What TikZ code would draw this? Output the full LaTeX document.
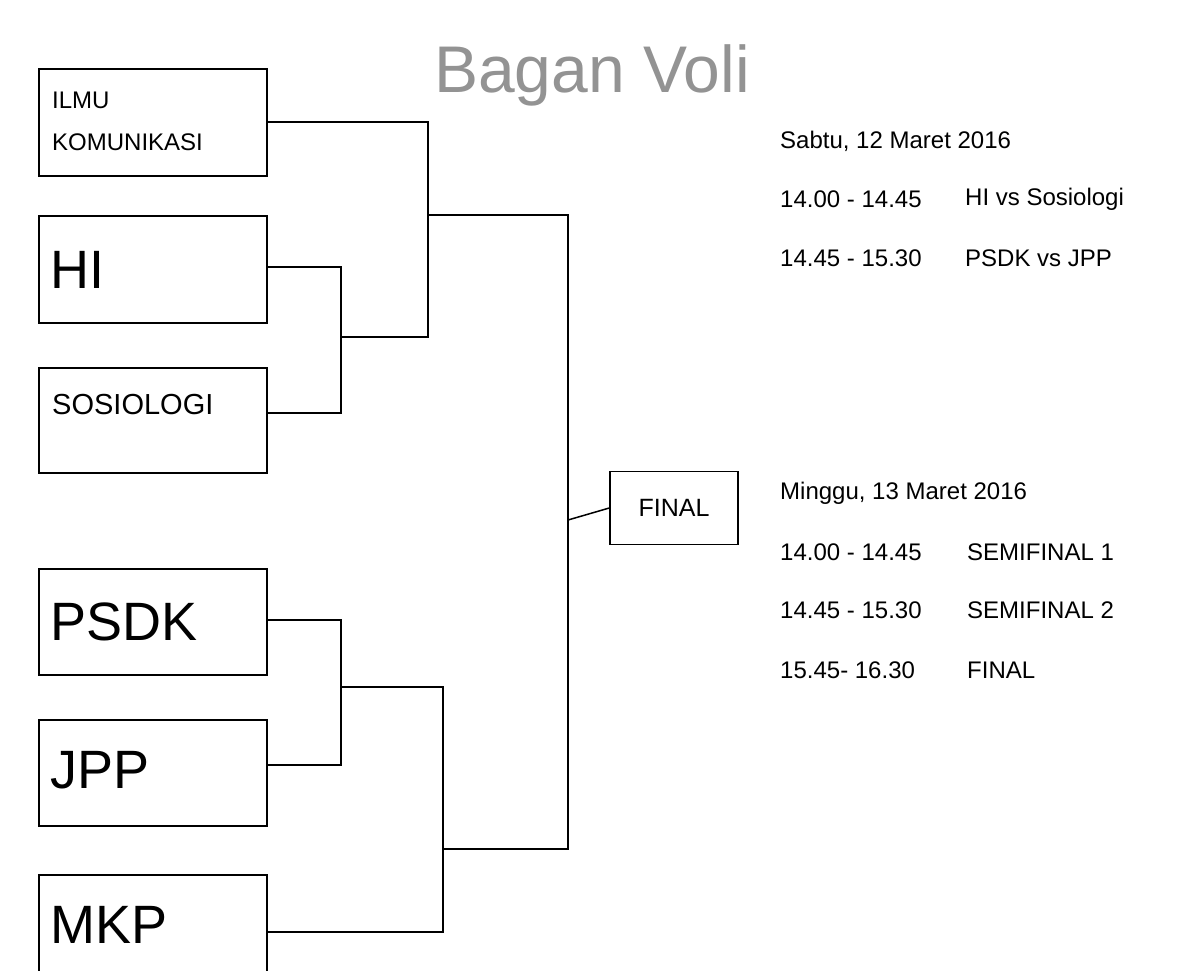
\documentclass[tikz,border=0pt]{standalone}
\usepackage{fontspec}
\setmainfont{Liberation Sans}
\begin{document}
\begin{tikzpicture}[x=1pt,y=-1pt,
  team/.style={draw,line width=1.5pt,minimum width=228pt,anchor=north west,inner sep=0pt},
  lbl/.style={anchor=west,inner sep=0pt},
  wire/.style={line width=1.5pt},
  info/.style={anchor=west,inner sep=0pt,font=\fontsize{24}{28}\selectfont}]
\useasboundingbox (0,0) rectangle (1200,970);
\node[team,minimum height=107pt] (ik) at (38,68) {};
\node[team,minimum height=107pt] (hi) at (38,215) {};
\node[team,minimum height=105pt] (so) at (38,367) {};
\node[team,minimum height=106pt] (ps) at (38,568) {};
\node[team,minimum height=106pt] (jp) at (38,719) {};
\node[team,minimum height=106pt] (mk) at (38,874) {};
\node[draw,line width=1.5pt,minimum width=128pt,minimum height=73pt,font=\fontsize{25}{28}\selectfont] (fi) at (674,508) {FINAL};
\node[lbl,align=left,font=\fontsize{24}{42}\selectfont] (tik) at (52,121) {ILMU\\KOMUNIKASI};
\node[lbl,font=\fontsize{54}{60}\selectfont] (thi) at (50,270) {HI};
\node[lbl,font=\fontsize{29}{32}\selectfont] (tso) at (52,405) {SOSIOLOGI};
\node[lbl,font=\fontsize{54}{60}\selectfont] (tps) at (50,622) {PSDK};
\node[lbl,font=\fontsize{54}{60}\selectfont] (tjp) at (50,770) {JPP};
\node[lbl,font=\fontsize{54}{60}\selectfont] (tmk) at (50,925) {MKP};
\node[text=gray!85,font=\fontsize{66}{70}\selectfont] (title) at (592,75) {Bagan Voli};
\coordinate (a) at (428,337);
\coordinate (b) at (443,687);
\coordinate (c) at (568,520);
\draw[wire] (ik.east |- 0,122) -| (428,215) -- (a) -- (341,337);
\draw[wire] (hi.east |- 0,267) -| (341,413) -- (so.east |- 0,413);
\draw[wire] (428,215) -| (c) |- (443,849);
\draw[wire] (ps.east |- 0,620) -| (341,765) -- (jp.east |- 0,765);
\draw[wire] (341,687) -| (b) |- (mk.east |- 0,932);
\draw[wire] (c) -- (fi.west);
\node[info] (d1) at (780,141) {Sabtu, 12 Maret 2016};
\node[info] (t1) at (780,199) {14.00 - 14.45};
\node[info] (m1) at (965,199) {HI vs Sosiologi};
\node[info] (t2) at (780,258) {14.45 - 15.30};
\node[info] (m2) at (965,258) {PSDK vs JPP};
\node[info] (d2) at (780,493) {Minggu, 13 Maret 2016};
\node[info] (t3) at (780,552) {14.00 - 14.45};
\node[info] (m3) at (967,552) {SEMIFINAL 1};
\node[info] (t4) at (780,610) {14.45 - 15.30};
\node[info] (m4) at (967,610) {SEMIFINAL 2};
\node[info] (t5) at (780,670) {15.45- 16.30};
\node[info] (m5) at (967,670) {FINAL};
\end{tikzpicture}
\end{document}
